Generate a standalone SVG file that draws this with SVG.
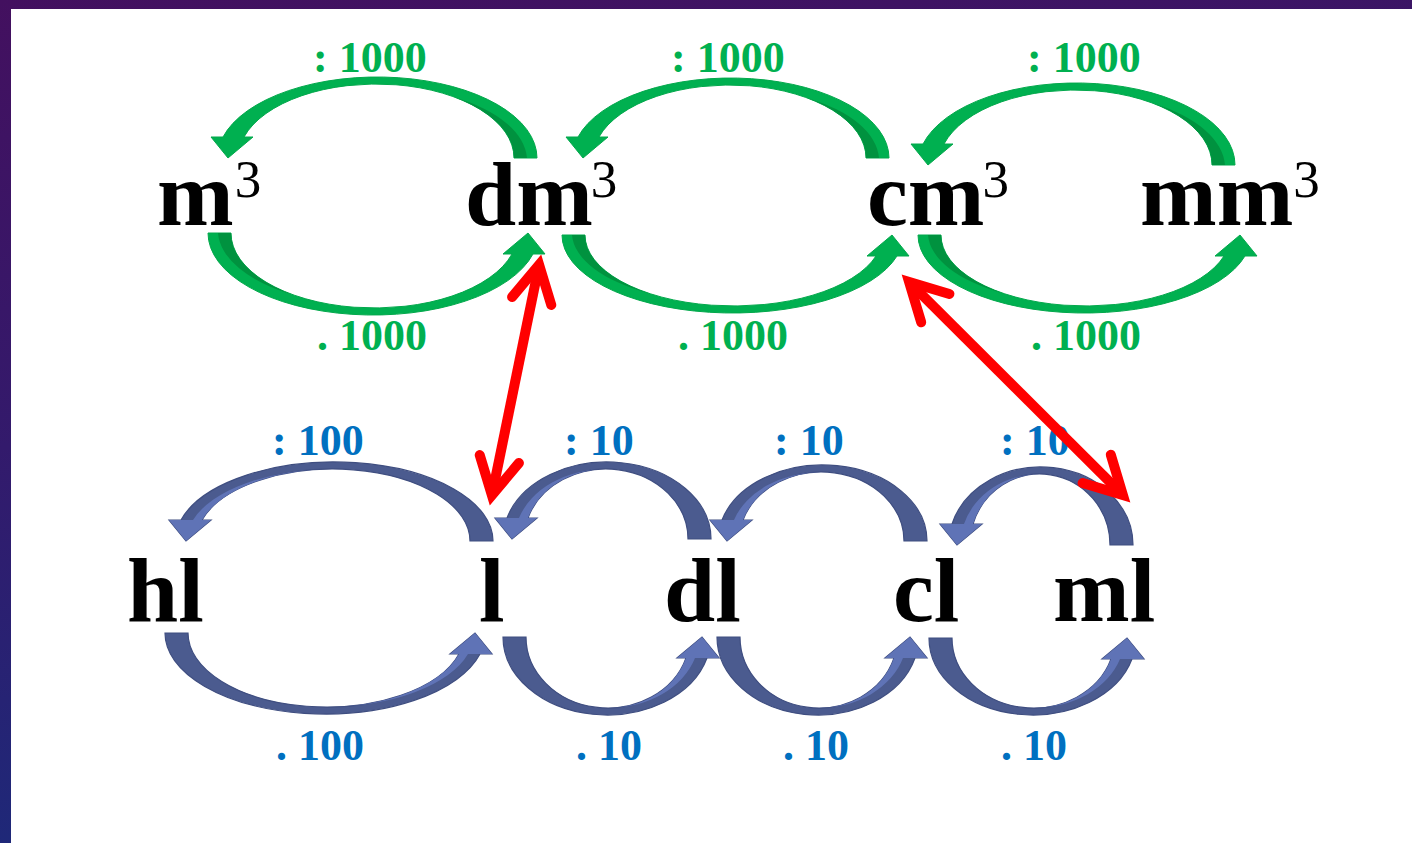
<svg xmlns="http://www.w3.org/2000/svg" width="1412" height="843" viewBox="0 0 1412 843">
  <defs>
    <linearGradient id="frame" x1="0" y1="0" x2="0.25" y2="1">
      <stop offset="0" stop-color="#43105f"/>
      <stop offset="0.5" stop-color="#331a6c"/>
      <stop offset="1" stop-color="#1c2a7a"/>
    </linearGradient>
    <marker id="vhead" markerUnits="userSpaceOnUse" viewBox="-60 -40 80 80" markerWidth="80" markerHeight="80" refX="0" refY="0" orient="auto-start-reverse" overflow="visible">
      <path d="M-37,-20 L0,0 L-37,20" fill="none" stroke="#ff0000" stroke-width="10" stroke-linecap="round" stroke-linejoin="miter"/>
    </marker>
    <style>
      .unit { font-family: "Liberation Serif", "Times New Roman", serif; font-weight: bold; font-size: 92px; fill: #000000; }
      .sup { font-size: 53px; font-weight: normal; }
      .lbl { font-family: "Liberation Serif", "Times New Roman", serif; font-weight: bold; font-size: 44px; }
      .lbl-g { fill: #00b050; }
      .lbl-b { fill: #0070c0; }
      .arc-g { fill: #00b050; stroke: #03a84c; stroke-width: 1; }
      .shade-g { fill: #00923f; }
      .arc-b { fill: #4b5b8f; stroke: #3f4e80; stroke-width: 1.2; }
      .hi-b { fill: #5f73b6; }
      .link { fill: none; stroke: #ff0000; stroke-width: 10; marker-start: url(#vhead); marker-end: url(#vhead); }
    </style>
  </defs>

  <!-- slide frame and white panel -->
  <rect x="0" y="0" width="1412" height="843" fill="url(#frame)"/>
  <rect x="11" y="9" width="1401" height="834" fill="#ffffff"/>

  <!-- conversion arcs with their factors -->
  <g id="connectors">
    <!-- volume row: divide by 1000 going left -->
    <g id="arc-dm3-m3">
      <path class="arc-g" d="M537,158 A159.73,81 0 0 0 223,137 L211,137 L228,158 L253,137 L244,137 A137.83,74 0 0 1 514,158 Z"/>
      <path class="shade-g" d="M514,158 A137.83,74 0 0 0 455.2,97.4 A147.8,74 0 0 1 527,158 Z"/>
      <text class="lbl lbl-g" x="313" y="72">: 1000</text>
    </g>
    <g id="arc-cm3-dm3">
      <path class="arc-g" d="M889,158 A158.28,80 0 0 0 578,137 L566,137 L583,158 L608,137 L599,137 A136.38,73 0 0 1 866,158 Z"/>
      <path class="shade-g" d="M866,158 A136.38,73 0 0 0 807.9,98.2 A146.4,73 0 0 1 879,158 Z"/>
      <text class="lbl lbl-g" x="671" y="72">: 1000</text>
    </g>
    <g id="arc-mm3-cm3">
      <path class="arc-g" d="M1235,165 A158.64,82 0 0 0 923,144 L911,144 L928,165 L953,144 L944,144 A136.73,75 0 0 1 1212,165 Z"/>
      <path class="shade-g" d="M1212,165 A136.73,75 0 0 0 1153.7,103.6 A146.7,75 0 0 1 1225,165 Z"/>
      <text class="lbl lbl-g" x="1027" y="72">: 1000</text>
    </g>
    <!-- volume row: multiply by 1000 going right -->
    <g id="arc-m3-dm3">
      <path class="arc-g" d="M208,233 A165.25,82 0 0 0 533,254 L545,254 L528,233 L503,254 L512,254 A143.37,75 0 0 1 231,233 Z"/>
      <path class="shade-g" d="M231,233 A143.37,75 0 0 0 292.1,294.4 A153.4,75 0 0 1 218,233 Z"/>
      <text class="lbl lbl-g" x="317" y="350">. 1000</text>
    </g>
    <g id="arc-dm3-cm3">
      <path class="arc-g" d="M562,235 A170.65,78 0 0 0 897,256 L909,256 L892,235 L867,256 L876,256 A148.83,71 0 0 1 585,235 Z"/>
      <path class="shade-g" d="M585,235 A148.83,71 0 0 0 648.5,293.2 A158.8,71 0 0 1 572,235 Z"/>
      <text class="lbl lbl-g" x="678" y="350">. 1000</text>
    </g>
    <g id="arc-cm3-mm3">
      <path class="arc-g" d="M918,235 A166.57,78 0 0 0 1245,256 L1257,256 L1240,235 L1215,256 L1224,256 A144.74,71 0 0 1 941,235 Z"/>
      <path class="shade-g" d="M941,235 A144.74,71 0 0 0 1002.7,293.2 A154.7,71 0 0 1 928,235 Z"/>
      <text class="lbl lbl-g" x="1031" y="350">. 1000</text>
    </g>

    <!-- capacity row: divide going left -->
    <g id="arc-l-hl">
      <path class="arc-b" d="M493,541 A158.86,79 0 0 0 181,520 L169,520 L186,541 L211,520 L202,520 A136.98,72 0 0 1 470,541 Z"/>
      <path class="hi-b" d="M202,520 A136.98,72 0 0 1 333,469 A146.4,72 0 0 0 193,520 Z"/>
      <path class="hi-b" d="M169,520 L186,541 L211,520 Z"/>
      <text class="lbl lbl-b" x="272" y="455">: 100</text>
    </g>
    <g id="arc-dl-l">
      <path class="arc-b" d="M711,539 A103.97,77 0 0 0 507,518 L495,518 L512,539 L537,518 L528,518 A81.89,70 0 0 1 688,539 Z"/>
      <path class="hi-b" d="M528,518 A81.89,70 0 0 1 606.1,469 A91.32,70 0 0 0 519,518 Z"/>
      <path class="hi-b" d="M495,518 L512,539 L537,518 Z"/>
      <text class="lbl lbl-b" x="564" y="455">: 10</text>
    </g>
    <g id="arc-cl-dl">
      <path class="arc-b" d="M927,541 A104.53,76 0 0 0 722,520 L710,520 L727,541 L752,520 L743,520 A82.46,69 0 0 1 904,541 Z"/>
      <path class="hi-b" d="M743,520 A82.46,69 0 0 1 821.5,472 A91.9,69 0 0 0 734,520 Z"/>
      <path class="hi-b" d="M710,520 L727,541 L752,520 Z"/>
      <text class="lbl lbl-b" x="774" y="455">: 10</text>
    </g>
    <g id="arc-ml-cl">
      <path class="arc-b" d="M1133,545 A92.2,78 0 0 0 952,524 L940,524 L957,545 L982,524 L973,524 A70.07,71 0 0 1 1110,545 Z"/>
      <path class="hi-b" d="M973,524 A70.07,71 0 0 1 1039.9,474 A79.49,71 0 0 0 964,524 Z"/>
      <path class="hi-b" d="M940,524 L957,545 L982,524 Z"/>
      <text class="lbl lbl-b" x="1000" y="455">: 10</text>
    </g>
    <!-- capacity row: multiply going right -->
    <g id="arc-hl-l">
      <path class="arc-b" d="M165,633 A160.24,81 0 0 0 480,654 L492,654 L475,633 L450,654 L459,654 A138.34,74 0 0 1 188,633 Z"/>
      <path class="hi-b" d="M459,654 A138.34,74 0 0 1 326.3,707 A147.73,74 0 0 0 468,654 Z"/>
      <path class="hi-b" d="M492,654 L475,633 L450,654 Z"/>
      <text class="lbl lbl-b" x="276" y="760">. 100</text>
    </g>
    <g id="arc-l-dl">
      <path class="arc-b" d="M503,637 A103.92,78 0 0 0 707,658 L719,658 L702,637 L677,658 L686,658 A81.83,71 0 0 1 526,637 Z"/>
      <path class="hi-b" d="M686,658 A81.83,71 0 0 1 607.8,708 A91.25,71 0 0 0 695,658 Z"/>
      <path class="hi-b" d="M719,658 L702,637 L677,658 Z"/>
      <text class="lbl lbl-b" x="576" y="760">. 10</text>
    </g>
    <g id="arc-dl-cl">
      <path class="arc-b" d="M717,637 A100.86,78 0 0 0 915,658 L927,658 L910,637 L885,658 L894,658 A78.76,71 0 0 1 740,637 Z"/>
      <path class="hi-b" d="M894,658 A78.76,71 0 0 1 818.8,708 A88.19,71 0 0 0 903,658 Z"/>
      <path class="hi-b" d="M927,658 L910,637 L885,658 Z"/>
      <text class="lbl lbl-b" x="783" y="760">. 10</text>
    </g>
    <g id="arc-cl-ml">
      <path class="arc-b" d="M929,638 A103.46,77 0 0 0 1132,659 L1144,659 L1127,638 L1102,659 L1111,659 A81.37,70 0 0 1 952,638 Z"/>
      <path class="hi-b" d="M1111,659 A81.37,70 0 0 1 1033.4,708 A90.81,70 0 0 0 1120,659 Z"/>
      <path class="hi-b" d="M1144,659 L1127,638 L1102,659 Z"/>
      <text class="lbl lbl-b" x="1001" y="760">. 10</text>
    </g>

    <!-- equivalences between the two rows -->
    <path id="link-dm3-l" class="link" d="M491.9,495.3 L539.1,264.7"/>
    <path id="link-cm3-ml" class="link" d="M909.1,282 L1122.9,495"/>
  </g>

  <!-- units -->
  <g id="m3"><text class="unit" x="157" y="225">m<tspan class="sup" dx="1" dy="-28">3</tspan></text></g>
  <g id="dm3"><text class="unit" x="465" y="225">dm<tspan class="sup" dx="-2" dy="-28">3</tspan></text></g>
  <g id="cm3"><text class="unit" x="867" y="225">cm<tspan class="sup" dx="-2" dy="-28">3</tspan></text></g>
  <g id="mm3"><text class="unit" x="1140" y="225">mm<tspan class="sup" dy="-28">3</tspan></text></g>
  <g id="hl"><text class="unit" x="127" y="621">hl</text></g>
  <g id="l"><text class="unit" x="479" y="621">l</text></g>
  <g id="dl"><text class="unit" x="664" y="621">dl</text></g>
  <g id="cl"><text class="unit" x="893" y="621">cl</text></g>
  <g id="ml"><text class="unit" x="1053" y="621">ml</text></g>
</svg>
